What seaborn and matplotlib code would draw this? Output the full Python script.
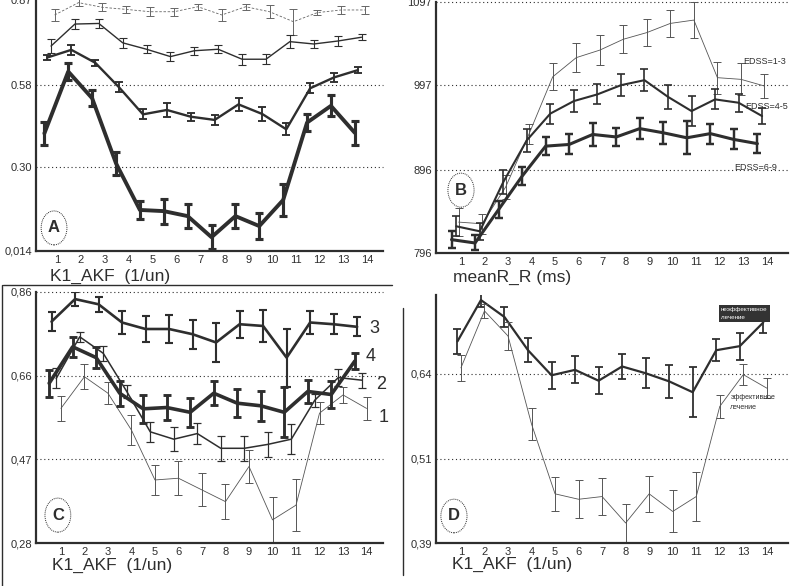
import numpy as np
import matplotlib
matplotlib.use("Agg")
import matplotlib.pyplot as plt
from matplotlib.lines import Line2D
from matplotlib.patches import Ellipse
import seaborn as sns

# x categories, same for every panel
steps = list(range(1, 15))

# panel A: K1_AKF, four groups (thin -> thick)
a1 = [0.819, 0.861, 0.845, 0.838, 0.830, 0.830, 0.847, 0.819, 0.847, 0.830, 0.796, 0.827, 0.836, 0.836]
a1_err = [0.019, 0.011, 0.014, 0.013, 0.016, 0.014, 0.011, 0.019, 0.011, 0.023, 0.045, 0.009, 0.013, 0.014]
a2 = [0.713, 0.788, 0.790, 0.724, 0.702, 0.677, 0.697, 0.702, 0.668, 0.668, 0.728, 0.720, 0.730, 0.743]
a2_err = [0.023, 0.017, 0.014, 0.017, 0.014, 0.014, 0.014, 0.014, 0.019, 0.017, 0.023, 0.014, 0.017, 0.011]
a3 = [0.674, 0.700, 0.656, 0.572, 0.480, 0.495, 0.472, 0.461, 0.514, 0.481, 0.429, 0.569, 0.606, 0.631]
a3_err = [0.009, 0.017, 0.011, 0.017, 0.017, 0.023, 0.014, 0.017, 0.023, 0.025, 0.020, 0.017, 0.014, 0.011]
a4 = [0.415, 0.626, 0.535, 0.313, 0.154, 0.150, 0.133, 0.061, 0.133, 0.099, 0.188, 0.452, 0.509, 0.417]
a4_err = [0.040, 0.028, 0.028, 0.040, 0.032, 0.043, 0.040, 0.040, 0.040, 0.045, 0.055, 0.028, 0.036, 0.040]

# panel B: meanR_R (ms) by EDSS group
b1 = [833, 831, 875, 939, 1007, 1030, 1039, 1052, 1060, 1071, 1075, 1006, 1004, 996]
b1_err = [17, 12, 14, 12, 16, 17, 18, 17, 16, 16, 22, 19, 19, 14]
b2 = [828, 822, 881, 931, 963, 978, 986, 997, 1003, 983, 966, 980, 976, 960]
b2_err = [12, 10, 14, 14, 12, 13, 12, 13, 13, 14, 18, 12, 11, 10]
b3 = [812, 808, 848, 888, 924, 926, 938, 935, 945, 940, 934, 939, 932, 927]
b3_err = [10, 9, 10, 11, 11, 12, 14, 11, 13, 13, 20, 12, 12, 11]
b_labels = ["EDSS=1-3", "EDSS=4-5", "EDSS=6-9"]

# panel C: K1_AKF, groups 1-4
c1 = [0.591, 0.664, 0.626, 0.541, 0.426, 0.430, 0.403, 0.376, 0.457, 0.334, 0.368, 0.580, 0.622, 0.591]
c1_err = [0.029, 0.029, 0.026, 0.035, 0.034, 0.039, 0.038, 0.040, 0.037, 0.052, 0.060, 0.025, 0.019, 0.026]
c2 = [0.660, 0.756, 0.718, 0.630, 0.537, 0.520, 0.533, 0.499, 0.499, 0.508, 0.520, 0.610, 0.662, 0.656]
c2_err = [0.023, 0.012, 0.017, 0.015, 0.023, 0.027, 0.025, 0.029, 0.029, 0.029, 0.035, 0.015, 0.019, 0.017]
c3 = [0.791, 0.843, 0.831, 0.789, 0.774, 0.774, 0.762, 0.743, 0.785, 0.781, 0.708, 0.789, 0.785, 0.779]
c3_err = [0.022, 0.017, 0.017, 0.027, 0.031, 0.032, 0.033, 0.045, 0.031, 0.037, 0.067, 0.027, 0.023, 0.022]
c4 = [0.649, 0.733, 0.708, 0.626, 0.590, 0.593, 0.582, 0.626, 0.603, 0.597, 0.582, 0.630, 0.623, 0.700]
c4_err = [0.031, 0.023, 0.024, 0.029, 0.032, 0.028, 0.033, 0.027, 0.032, 0.035, 0.058, 0.027, 0.031, 0.019]

# panel D: K1_AKF, non-effective vs effective treatment
d1 = [0.688, 0.749, 0.724, 0.675, 0.638, 0.646, 0.630, 0.651, 0.641, 0.629, 0.613, 0.675, 0.681, 0.716]
d1_err = [0.018, 0.010, 0.015, 0.018, 0.020, 0.020, 0.020, 0.019, 0.022, 0.024, 0.037, 0.016, 0.020, 0.015]
d2 = [0.649, 0.733, 0.696, 0.566, 0.463, 0.455, 0.459, 0.420, 0.463, 0.437, 0.459, 0.592, 0.639, 0.619]
d2_err = [0.019, 0.010, 0.020, 0.024, 0.025, 0.028, 0.027, 0.028, 0.027, 0.031, 0.036, 0.017, 0.016, 0.015]

sns.set_style("white")
plt.rcParams['font.family'] = ['Liberation Sans', 'DejaVu Sans']

INK = "#2e2e2e"
fig = plt.figure(figsize=(8, 5.86), dpi=100)


def panel(l, t, r, b):
    return fig.add_axes([l / 800, 1 - b / 586, (r - l) / 800, (b - t) / 586])


def series(ax, y, err, off, lw, color=INK, ls="-"):
    xs = np.array(steps) + off
    sns.lineplot(x=xs, y=y, ax=ax, color=color, lw=lw, linestyle=ls, legend=False)
    ax.errorbar(xs, y, yerr=err, fmt="none", ecolor=color, elinewidth=max(lw * 0.8, 0.7),
                capsize=3, capthick=max(lw * 0.8, 0.7))


def style(ax, xlim, ylim, yticks, ylabels, grid, xlabel, lab_x, lab_y, letter, let_xy):
    ax.set_xlim(*xlim)
    ax.set_ylim(*ylim)
    ax.set_xticks(steps)
    ax.set_xticklabels([str(s) for s in steps])
    ax.set_yticks(yticks)
    ax.set_yticklabels(ylabels)
    ax.tick_params(length=0, labelsize=8, labelcolor=INK, pad=3)
    for s in ["top", "right"]:
        ax.spines[s].set_visible(False)
    for s in ["left", "bottom"]:
        ax.spines[s].set_color(INK)
        ax.spines[s].set_linewidth(1.6)
    for g in grid:
        ax.axhline(g, color=INK, lw=0.8, ls=(0, (1, 2.5)), zorder=0, clip_on=False)
    ax.text(lab_x, lab_y, xlabel, transform=ax.transAxes, ha="center", va="center",
            fontsize=12.5, color=INK)
    ax.add_patch(Ellipse(let_xy, 26 / 350, 34 / 251, transform=ax.transAxes,
                         fill=False, ec=INK, lw=0.7, ls=(0, (1, 1))))
    ax.text(let_xy[0], let_xy[1], letter, transform=ax.transAxes, ha="center", va="center",
            fontsize=12, fontweight="bold", color=INK)


# ---- A
ax = panel(36, 0, 383, 251)
series(ax, a1, a1_err, -0.1, 0.6, color="#666666", ls=(0, (3, 2)))
series(ax, a2, a2_err, -0.25, 1.0)
series(ax, a3, a3_err, -0.4, 1.7)
series(ax, a4, a4_err, -0.53, 2.8)
style(ax, (0.12, 14.65), (0.014, 0.87), [0.014, 0.30, 0.58, 0.87],
      ["0,014", "0.30", "0.58", "0.87"], [0.30, 0.58],
      "K1_AKF  (1/un)", 0.213, -0.10, "A", (0.052, 0.092))

# ---- B
ax = panel(436, 1.7, 788, 253)
series(ax, b1, b1_err, -0.1, 0.6, color="#555555")
series(ax, b2, b2_err, -0.2, 1.5)
series(ax, b3, b3_err, -0.4, 2.2)
style(ax, (-0.06, 14.9), (796, 1097), [796, 896, 997, 1097],
      ["796", "896", "997", "1097"], [896, 997, 1097],
      "meanR_R (ms)", 0.217, -0.096, "B", (0.071, 0.25))
for lab, lx, ly in zip(b_labels, [13.0, 13.1, 12.6], [1025, 971, 899]):
    ax.text(lx, ly, lab, fontsize=6.5, color=INK, ha="left", va="center")

# ---- C
ax = panel(36, 291.7, 383, 543.3)
series(ax, c1, c1_err, 0.0, 0.6, color="#555555")
series(ax, c2, c2_err, -0.2, 1.1)
series(ax, c3, c3_err, -0.4, 1.9)
series(ax, c4, c4_err, -0.5, 2.6)
style(ax, (-0.06, 14.7), (0.28, 0.86), [0.28, 0.474, 0.666, 0.86],
      ["0,28", "0,47", "0,66", "0,86"], [0.474, 0.666, 0.86],
      "K1_AKF  (1/un)", 0.218, -0.086, "C", (0.063, 0.112))
for lab, lx, ly in zip(["3", "4", "2", "1"], [14.1, 13.95, 14.4, 14.5],
                       [0.776, 0.71, 0.645, 0.569]):
    ax.text(lx, ly, lab, fontsize=13, color=INK, ha="left", va="center")

# ---- D
ax = panel(436, 295, 788, 543.3)
series(ax, d1, d1_err, -0.15, 1.6)
series(ax, d2, d2_err, 0.0, 0.6, color="#555555")
style(ax, (-0.06, 14.9), (0.39, 0.7565), [0.39, 0.515, 0.64],
      ["0,39", "0,51", "0,64"], [0.515, 0.64],
      "K1_AKF  (1/un)", 0.217, -0.086, "D", (0.051, 0.11))
ax.text(12.05, 0.729, "неэффективное\nлечение", fontsize=4.5, color="white",
        ha="left", va="center", linespacing=1.6,
        bbox=dict(boxstyle="square,pad=0.35", fc="#333333", ec="none"))
ax.text(12.45, 0.598, "эффективное\nлечение", fontsize=5, color=INK,
        ha="left", va="center", linespacing=1.5)

# frame lines around the lower panels
fig.add_artist(Line2D([3 / 800, 392 / 800], [1 - 285 / 586, 1 - 285 / 586], color=INK, lw=1.0))
fig.add_artist(Line2D([2 / 800, 2 / 800], [1 - 285 / 586, 0], color=INK, lw=1.0))
fig.add_artist(Line2D([403 / 800, 403 / 800], [1 - 308 / 586, 1 - 575 / 586], color=INK, lw=1.0))

plt.savefig("out.png", dpi=100)
